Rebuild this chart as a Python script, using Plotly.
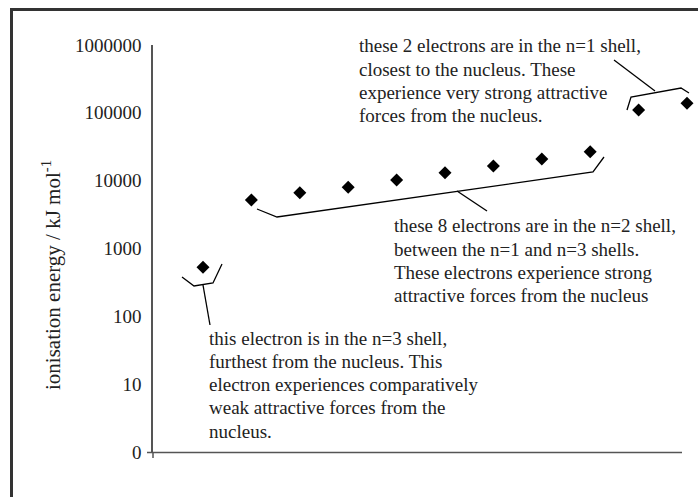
import plotly.graph_objects as go

# Successive ionisation energies (kJ mol-1) for the 11 electrons
electron_number = [1, 2, 3, 4, 5, 6, 7, 8, 9, 10, 11]
ionisation_energy = [530, 5200, 6650, 8000, 10200, 13100, 16500, 20900, 26700, 110000, 138000]

tick_values = [1, 10, 100, 1000, 10000, 100000, 1000000]
tick_labels = ["0", "10", "100", "1000", "10000", "100000", "1000000"]

note_n3 = ["this electron is in the n=3 shell,",
           "furthest from the nucleus. This",
           "electron experiences comparatively",
           "weak attractive forces from the",
           "nucleus."]
note_n2 = ["these 8 electrons are in the n=2 shell,",
           "between the n=1 and n=3 shells.",
           "These electrons experience strong",
           "attractive forces from the nucleus"]
note_n1 = ["these 2 electrons are in the n=1 shell,",
           "closest to the nucleus. These",
           "experience very strong attractive",
           "forces from the nucleus."]

W, H = 698, 497
L, R, T, B = 153, 3, 45, 45
PW, PH = W - L - R, H - T - B
STEP = 48.4  # pixels per electron along x
FONT = "Liberation Serif, Times New Roman, serif"
INK = "#222222"
AXIS = "#555555"


def paper(x, y):
    """Pixel position on the page -> paper coordinates."""
    return (x - L) / PW, (H - B - y) / PH


def path(points):
    parts = []
    for i, (x, y) in enumerate(points):
        px, py = paper(x, y)
        parts.append(("M" if i == 0 else "L") + f"{px:.5f},{py:.5f}")
    return " ".join(parts)


fig = go.Figure()
fig.add_trace(go.Scatter(
    x=electron_number, y=ionisation_energy, mode="markers",
    marker=dict(symbol="diamond", size=10, color="black"),
    cliponaxis=False, showlegend=False, hoverinfo="x+y",
))

shapes = []
# brackets grouping the electrons by shell, with their pointer stems
brackets = [
    [(182, 277), (194, 286), (213, 283), (222, 264)],
    [(203, 285), (210, 325)],
    [(257, 209), (277, 217), (593, 172), (604, 157)],
    [(457, 191), (487, 211)],
    [(627, 110), (631, 97), (681, 88), (689, 93)],
    [(614, 60), (655, 91)],
]
for pts in brackets:
    shapes.append(dict(type="path", path=path(pts), xref="paper", yref="paper",
                       line=dict(color="black", width=1.3)))

# horizontal axis line (stops short of the last electron) and the small
# overshoot where the two axes cross
shapes.append(dict(type="path", path=path([(147, 452.5), (682, 452.5)]),
                   xref="paper", yref="paper", line=dict(color=AXIS, width=1.5)))
shapes.append(dict(type="path", path=path([(153, 452), (153, 458)]),
                   xref="paper", yref="paper", line=dict(color=AXIS, width=1.5)))

# page frame (top and left edges)
shapes.append(dict(type="path", path=path([(11.5, 497), (11.5, 9.5), (698, 9.5)]),
                   xref="paper", yref="paper", line=dict(color="#333333", width=3)))

annotations = []


def add_block(lines, x_left, y_first, spacing=23.3, size=19):
    for i, line in enumerate(lines):
        px, py = paper(x_left, y_first + i * spacing)
        annotations.append(dict(
            text=line, x=px, y=py, xref="paper", yref="paper",
            xanchor="left", yanchor="middle", showarrow=False,
            font=dict(family=FONT, size=size, color=INK),
        ))


add_block(note_n3, 207, 338)
add_block(note_n2, 392, 226)
add_block(note_n1, 357, 46)

tx, ty = paper(51, 275)
annotations.append(dict(
    text="ionisation energy / kJ mol<sup>-1</sup>", x=tx, y=ty,
    xref="paper", yref="paper", textangle=-90, showarrow=False,
    xanchor="center", yanchor="middle",
    font=dict(family=FONT, size=21, color=INK),
))

fig.update_layout(
    width=W, height=H,
    margin=dict(l=L, r=R, t=T, b=B, pad=0),
    paper_bgcolor="white", plot_bgcolor="white",
    shapes=shapes, annotations=annotations,
    xaxis=dict(range=[1 - 50 / STEP, 1 + (W - R - 203) / STEP], showgrid=False,
               zeroline=False, showticklabels=False, ticks="", showline=False),
    yaxis=dict(type="log", range=[0, 6], tickvals=tick_values, ticktext=tick_labels,
               showgrid=False, zeroline=False, ticks="",
               showline=True, linecolor=AXIS, linewidth=1.5,
               ticklabelstandoff=6,
               tickfont=dict(family=FONT, size=19, color=INK)),
    showlegend=False,
)

fig.write_html("out.html")
